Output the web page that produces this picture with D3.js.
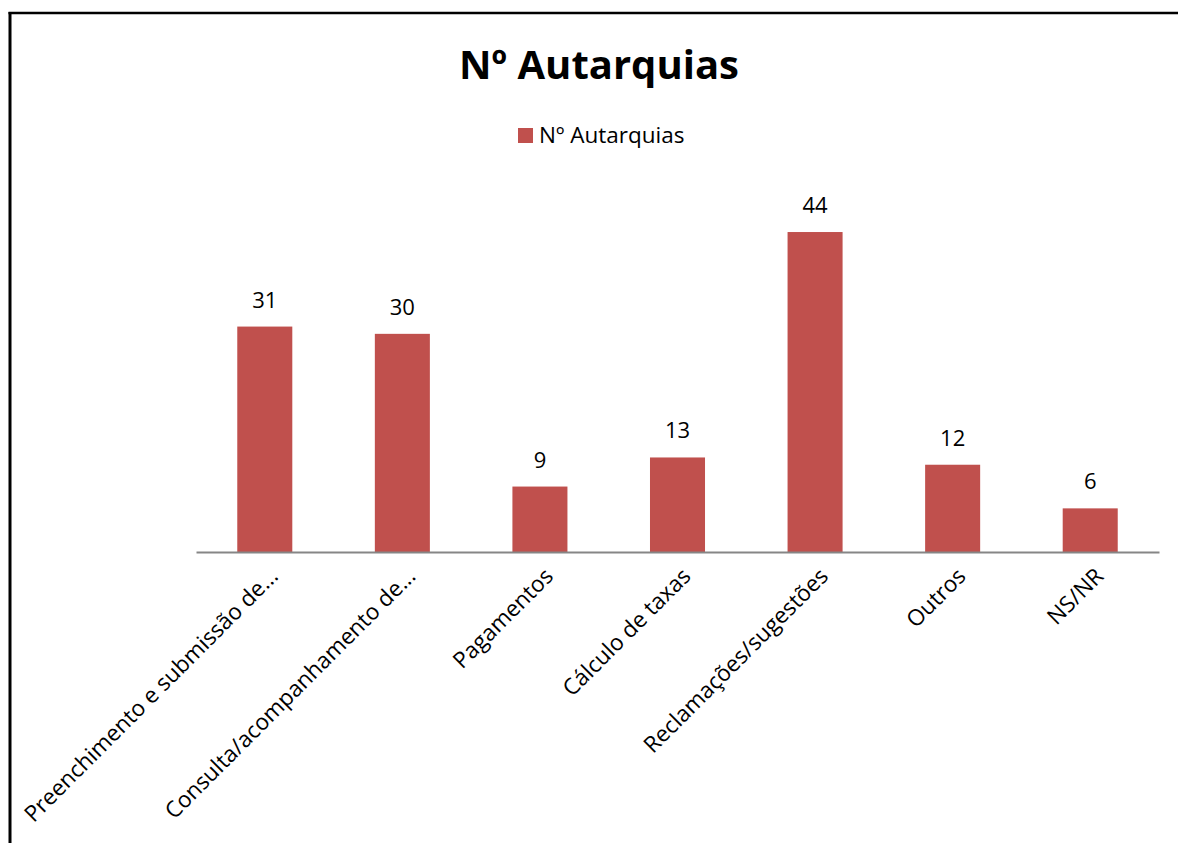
<!DOCTYPE html>
<html><head><meta charset="utf-8">
<script src="https://cdn.jsdelivr.net/npm/d3@7"></script>
<style>html,body{margin:0;background:#fff;overflow:hidden}svg{display:block}text{font-family:"Open Sans",sans-serif}</style>
</head><body>
<svg id="c" width="1178" height="843"></svg>
<script>
const categories = ["Preenchimento e submissão de...","Consulta/acompanhamento de...","Pagamentos","Cálculo de taxas","Reclamações/sugestões","Outros","NS/NR"];
const values = [31,30,9,13,44,12,6];
const seriesName = "Nº Autarquias";
const titleText = "Nº Autarquias";

const svg = d3.select("#c");
// frame (left and top edges visible)
svg.append("line").attr("x1",10).attr("x2",10).attr("y1",12).attr("y2",850).attr("stroke","#000").attr("stroke-width",3);
svg.append("line").attr("x1",8.5).attr("x2",1200).attr("y1",13).attr("y2",13).attr("stroke","#000").attr("stroke-width",2.4);

const x = d3.scaleBand().domain(categories).range([196,1159]).paddingInner(0.6).paddingOuter(0.3);
const y = d3.scaleLinear().domain([0,50]).range([552,188.4]);

svg.append("text").attr("x",599).attr("y",79).attr("text-anchor","middle")
  .attr("font-size",40).attr("font-weight","bold").attr("fill","#000").text(titleText);

// legend
svg.append("rect").attr("x",518).attr("y",128).attr("width",15).attr("height",15).attr("fill","#C0504D");
svg.append("text").attr("x",539).attr("y",143).attr("font-size",22.5).attr("fill","#000").text(seriesName);

svg.selectAll(".bar").data(values).join("rect")
  .attr("x",(d,i)=>x(categories[i])).attr("width",x.bandwidth())
  .attr("y",d=>y(d)).attr("height",d=>y(0)-y(d)).attr("fill","#C0504D");

svg.selectAll(".val").data(values).join("text")
  .attr("x",(d,i)=>x(categories[i])+x.bandwidth()/2).attr("y",d=>y(d)-19)
  .attr("text-anchor","middle").attr("font-size",22).attr("fill","#000").text(d=>d);

const ax = svg.append("g").attr("transform","translate(0,552)")
  .call(d3.axisBottom(x).tickSize(0).tickPadding(0).tickSizeOuter(0));
ax.select(".domain").attr("stroke","#868686").attr("stroke-width",2);
ax.selectAll("text").attr("font-size",22.5).attr("fill","#000").attr("font-family","'Open Sans',sans-serif")
  .attr("text-anchor","end").attr("y",0)
  .attr("transform","translate(9,20) rotate(-45)").attr("dy","0.35em");
</script>
</body></html>
